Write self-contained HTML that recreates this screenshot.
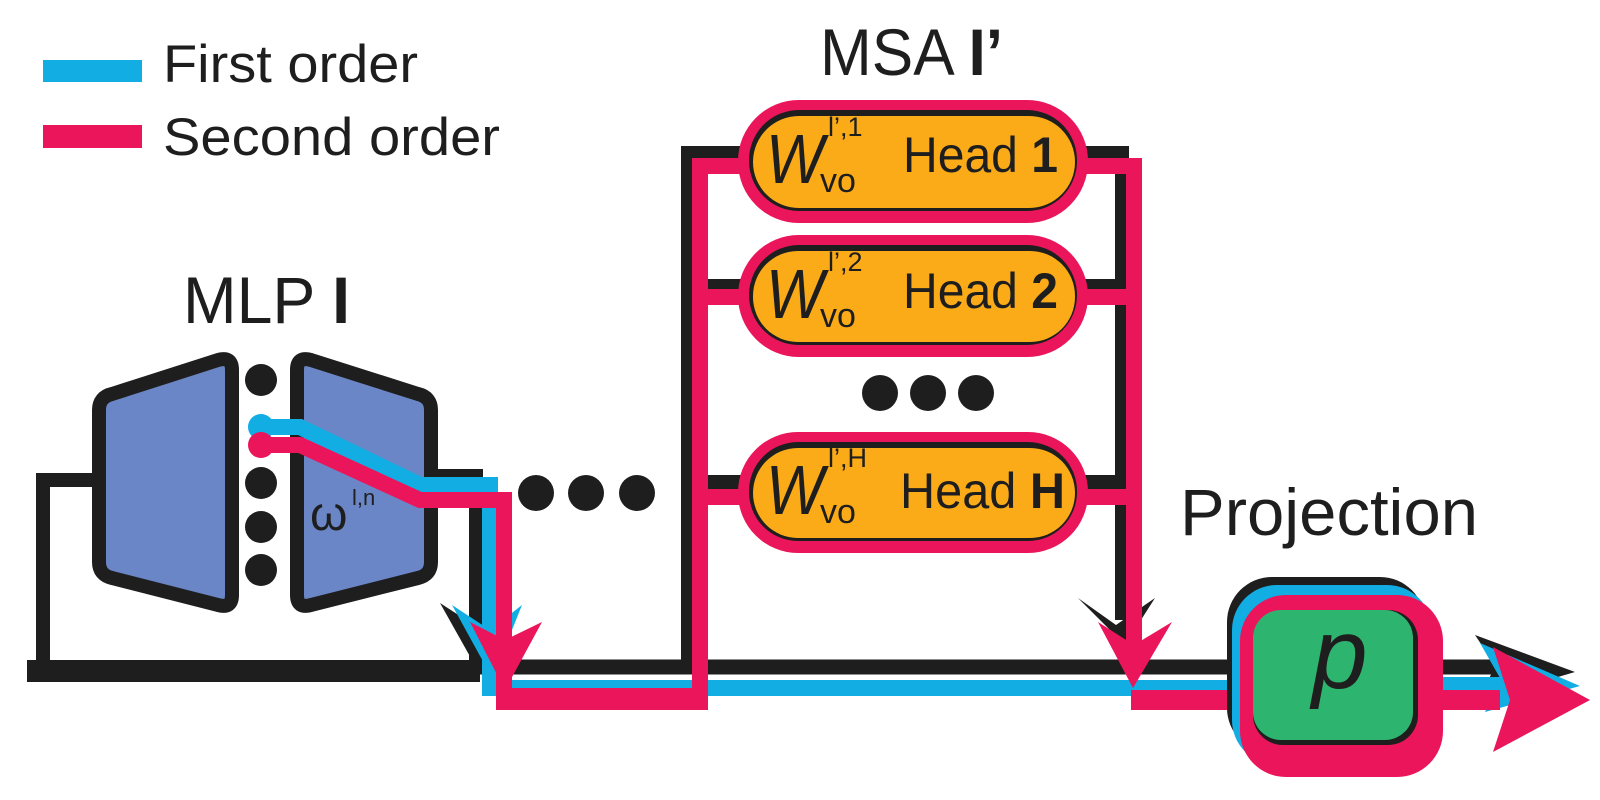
<!DOCTYPE html>
<html><head><meta charset="utf-8"><style>
html,body{margin:0;padding:0;background:#fff;}
svg{display:block;}
text{font-family:"Liberation Sans",sans-serif;fill:#1e1e1e;}
</style></head><body>
<svg width="1600" height="800" viewBox="0 0 1600 800" xmlns="http://www.w3.org/2000/svg">
<!-- legend -->
<rect x="43" y="60" width="99" height="22" fill="#12ade3"/>
<rect x="43" y="125" width="99" height="23" fill="#ea155a"/>
<text x="163" y="82" font-size="53" textLength="255" lengthAdjust="spacingAndGlyphs">First order</text>
<text x="163" y="155" font-size="53" textLength="337" lengthAdjust="spacingAndGlyphs">Second order</text>
<text x="183" y="323" font-size="66" textLength="167" lengthAdjust="spacingAndGlyphs">MLP <tspan font-weight="bold">I</tspan></text>
<text x="820" y="75" font-size="66" textLength="183" lengthAdjust="spacingAndGlyphs">MSA <tspan font-weight="bold">I’</tspan></text>
<text x="1180" y="535" font-size="66" textLength="298" lengthAdjust="spacingAndGlyphs">Projection</text>

<!-- black base lines -->
<g fill="none" stroke="#1e1e1e" stroke-width="14" stroke-linejoin="miter">
<polyline points="94,480 43,480 43,669"/>
<polyline points="420,476 476,476 476,669"/>
<line x1="27" y1="671" x2="480" y2="671" stroke-width="22"/>
<line x1="470" y1="667" x2="1500" y2="667" stroke-width="15"/>
<polyline points="745,153 688,153 688,669"/>
<polyline points="1082,153 1122,153 1122,620"/>
<line x1="690" y1="286" x2="745" y2="286"/>
<line x1="1082" y1="286" x2="1122" y2="286"/>
<line x1="690" y1="482" x2="745" y2="482"/>
<line x1="1082" y1="482" x2="1122" y2="482"/>
</g>
<!-- black arrowheads (shadows) -->
<polygon points="440,603 474,625 500,600 484,660 472,660" fill="#1e1e1e"/>
<polygon points="1078,598 1116,625 1155,598 1125,645" fill="#1e1e1e"/>
<polygon points="1475,635 1575,672 1480,700 1495,665" fill="#1e1e1e"/>

<!-- MLP shapes -->
<path d="M99,410 Q99,397 112,394 L218,360 Q232,356 232,370 L232,595 Q232,609 218,605 L112,578 Q99,575 99,562 Z" fill="#6b86c6" stroke="#1e1e1e" stroke-width="14" stroke-linejoin="round"/>
<path d="M297,370 Q297,356 311,360 L418,394 Q431,397 431,410 L431,562 Q431,575 418,578 L311,605 Q297,609 297,595 Z" fill="#6b86c6" stroke="#1e1e1e" stroke-width="14" stroke-linejoin="round"/>
<text x="310" y="530" font-size="48">ω</text>
<text x="352" y="505" font-size="22">l,n</text>
<!-- dots -->
<g fill="#1e1e1e">
<circle cx="261" cy="380" r="16"/><circle cx="261" cy="483" r="16"/><circle cx="261" cy="527" r="16"/><circle cx="261" cy="570" r="16"/>
<circle cx="536" cy="493" r="18"/><circle cx="586" cy="493" r="18"/><circle cx="637" cy="493" r="18"/>
<circle cx="880" cy="393" r="18"/><circle cx="928" cy="393" r="18"/><circle cx="976" cy="393" r="18"/>
</g>

<!-- blue path -->
<g fill="none" stroke="#12ade3" stroke-width="16" stroke-linejoin="miter">
<polyline points="261,427 300,427 420,485 490,485 490,688 1230,688"/>
<line x1="1425" y1="685" x2="1500" y2="685"/>
</g>
<circle cx="261" cy="427" r="13" fill="#12ade3"/>
<polygon points="452,605 490,630 522,605 498,665 485,665" fill="#12ade3"/>
<polygon points="1480,643 1580,686 1485,712 1500,678" fill="#12ade3"/>

<!-- pink path -->
<g fill="none" stroke="#ea155a" stroke-width="16" stroke-linejoin="miter">
<polyline points="261,445 300,445 420,500 504,500 504,699 700,699 700,166 745,166"/>
<polyline points="1082,166 1134,166 1134,660"/>
<line x1="700" y1="297" x2="745" y2="297"/>
<line x1="1082" y1="297" x2="1134" y2="297"/>
<line x1="700" y1="497" x2="745" y2="497"/>
<line x1="1082" y1="497" x2="1134" y2="497"/>
</g>
<line x1="496" y1="699" x2="708" y2="699" stroke="#ea155a" stroke-width="22"/>
<line x1="1131" y1="700" x2="1500" y2="700" stroke="#ea155a" stroke-width="20"/>
<circle cx="261" cy="445" r="13" fill="#ea155a"/>
<polygon points="470,622 505,640 542,622 505,690" fill="#ea155a"/>
<polygon points="1098,622 1134,645 1172,622 1133,688" fill="#ea155a"/>
<polygon points="1493,647 1590,700 1493,752 1510,700" fill="#ea155a"/>

<!-- heads -->
<g>
<rect x="738" y="100" width="350" height="123" rx="61" fill="#ea155a"/>
<rect x="749" y="110" width="328" height="101" rx="50" fill="#1e1e1e"/>
<rect x="753" y="116" width="322" height="92" rx="46" fill="#fbab18"/>
<rect x="738" y="235" width="350" height="122" rx="61" fill="#ea155a"/>
<rect x="749" y="245" width="328" height="100" rx="50" fill="#1e1e1e"/>
<rect x="753" y="251" width="322" height="91" rx="45" fill="#fbab18"/>
<rect x="738" y="432" width="350" height="121" rx="60" fill="#ea155a"/>
<rect x="749" y="442" width="328" height="99" rx="49" fill="#1e1e1e"/>
<rect x="753" y="448" width="322" height="90" rx="45" fill="#fbab18"/>
</g>
<g>
<text x="766" y="183" font-size="70" font-style="italic" textLength="58" lengthAdjust="spacingAndGlyphs">W</text>
<text x="828" y="136" font-size="27">l’,1</text>
<text x="820" y="192" font-size="34">vo</text>
<text x="903" y="172" font-size="50" textLength="155" lengthAdjust="spacingAndGlyphs">Head <tspan font-weight="bold">1</tspan></text>
<text x="766" y="318" font-size="70" font-style="italic" textLength="58" lengthAdjust="spacingAndGlyphs">W</text>
<text x="828" y="271" font-size="27">l’,2</text>
<text x="820" y="327" font-size="34">vo</text>
<text x="903" y="308" font-size="50" textLength="155" lengthAdjust="spacingAndGlyphs">Head <tspan font-weight="bold">2</tspan></text>
<text x="766" y="514" font-size="70" font-style="italic" textLength="58" lengthAdjust="spacingAndGlyphs">W</text>
<text x="828" y="467" font-size="27">l’,H</text>
<text x="820" y="523" font-size="34">vo</text>
<text x="900" y="508" font-size="50" textLength="165" lengthAdjust="spacingAndGlyphs">Head <tspan font-weight="bold">H</tspan></text>
</g>

<!-- projection box -->
<rect x="1227" y="577" width="198" height="176" rx="45" fill="#1e1e1e"/>
<rect x="1232" y="585" width="200" height="180" rx="45" fill="#12ade3"/>
<rect x="1240" y="595" width="203" height="182" rx="46" fill="#ea155a"/>
<rect x="1253" y="610" width="165" height="135" rx="30" fill="#1e1e1e"/>
<rect x="1253" y="610" width="160" height="130" rx="28" fill="#2db56f"/>
<text x="1312" y="688" font-size="100" font-style="italic">p</text>
</svg>
</body></html>
